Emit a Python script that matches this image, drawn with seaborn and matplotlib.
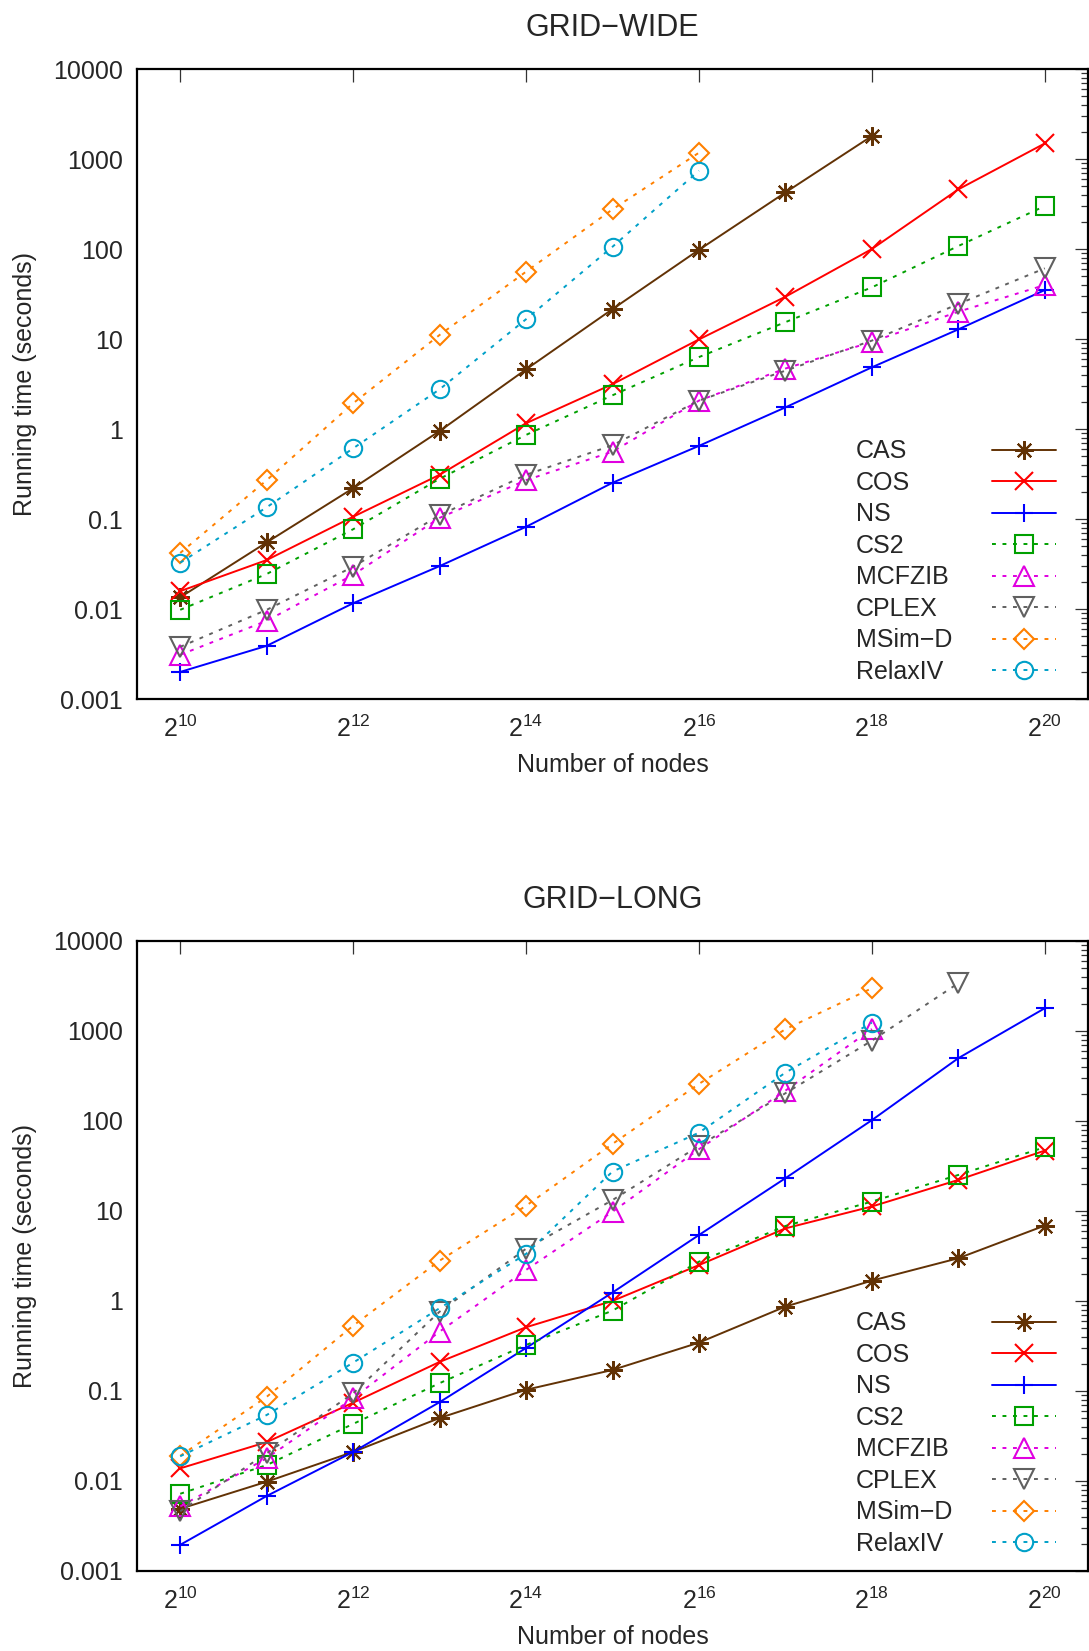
import numpy as np
import pandas as pd
import matplotlib
matplotlib.use("Agg")
import matplotlib.pyplot as plt
import seaborn as sns
from matplotlib.lines import Line2D
from matplotlib.ticker import FixedLocator, NullLocator, FuncFormatter, LogLocator

# ---------------- data ----------------
exponents = list(range(10, 21))
nodes = [2 ** e for e in exponents]
xtick_exponents = [10, 12, 14, 16, 18, 20]
methods = ["CAS", "COS", "NS", "CS2", "MCFZIB", "CPLEX", "MSim−D", "RelaxIV"]

# GRID-WIDE (seconds), starting at 2^10
wide_cas = [0.0135, 0.055, 0.22, 0.95, 4.6, 21.5, 98, 425, 1800]
wide_cos = [0.0158, 0.035, 0.106, 0.31, 1.16, 3.15, 9.9, 29.5, 100, 460, 1490]
wide_ns = [0.002, 0.0039, 0.0116, 0.030, 0.082, 0.253, 0.65, 1.74, 4.85, 12.8, 35]
wide_cs2 = [0.0098, 0.0245, 0.077, 0.28, 0.86, 2.37, 6.3, 15.4, 37.5, 108, 300]
wide_mcfzib = [0.0031, 0.0074, 0.024, 0.103, 0.27, 0.56, 2.07, 4.7, 9.3, 20.1, 39.8]
wide_cplex = [0.0038, 0.0098, 0.0295, 0.11, 0.31, 0.66, 2.07, 4.45, 9.6, 24.5, 61]
wide_msimd = [0.042, 0.27, 1.93, 11.1, 56, 276, 1175]
wide_relaxiv = [0.0327, 0.135, 0.61, 2.76, 16.6, 106, 742]

# GRID-LONG (seconds), starting at 2^10
long_cas = [0.0049, 0.0098, 0.021, 0.05, 0.103, 0.171, 0.344, 0.865, 1.68, 2.98, 6.87]
long_cos = [0.0138, 0.027, 0.074, 0.21, 0.51, 1.0, 2.5, 6.4, 11.2, 22.1, 46.8]
long_ns = [0.00195, 0.0068, 0.021, 0.075, 0.30, 1.24, 5.4, 23.1, 102, 498, 1786]
long_cs2 = [0.0072, 0.015, 0.043, 0.122, 0.324, 0.78, 2.73, 6.8, 12.7, 25.1, 51]
long_mcfzib = [0.0052, 0.0179, 0.083, 0.456, 2.21, 9.8, 48.5, 217, 1050]
long_cplex = [0.0046, 0.0203, 0.094, 0.76, 3.8, 13.2, 52.7, 203, 780, 3390]
long_msimd = [0.019, 0.086, 0.53, 2.8, 11.4, 55.5, 258, 1045, 2980]
long_relaxiv = [0.0188, 0.054, 0.206, 0.83, 3.33, 27.4, 74, 344, 1236]

wide = dict(zip(methods, [wide_cas, wide_cos, wide_ns, wide_cs2, wide_mcfzib,
                          wide_cplex, wide_msimd, wide_relaxiv]))
long_ = dict(zip(methods, [long_cas, long_cos, long_ns, long_cs2, long_mcfzib,
                           long_cplex, long_msimd, long_relaxiv]))

# ---------------- styles ----------------
colors = {"CAS": "#623205", "COS": "#ff0000", "NS": "#0000ff", "CS2": "#00a000",
          "MCFZIB": "#e000e0", "CPLEX": "#606060", "MSim−D": "#ff8000",
          "RelaxIV": "#00a0c8"}
markers = {"CAS": (8, 2, 0), "COS": "x", "NS": "+", "CS2": "s", "MCFZIB": "^",
           "CPLEX": "v", "MSim−D": "D", "RelaxIV": "o"}
msizes = {"CAS": 13.5, "COS": 12.5, "NS": 13.5, "CS2": 12.5, "MCFZIB": 14,
          "CPLEX": 14, "MSim−D": 10.5, "RelaxIV": 12.5}
dotted = (0, (2.0, 3.4))
lstyles = {"CAS": "-", "COS": "-", "NS": "-", "CS2": dotted, "MCFZIB": dotted,
           "CPLEX": dotted, "MSim−D": dotted, "RelaxIV": dotted}

sns.set_style("white")
plt.rcParams["font.family"] = ["Liberation Sans", "DejaVu Sans"]
plt.rcParams["mathtext.fontset"] = "custom"
plt.rcParams["mathtext.rm"] = "Liberation Sans"
plt.rcParams["mathtext.it"] = "Liberation Sans:italic"
plt.rcParams["mathtext.bf"] = "Liberation Sans:bold"

FS = 18
TFS = 22

fig = plt.figure(figsize=(10.89, 16.51), dpi=100)
ax_top = fig.add_axes([0.1258, 0.5766, 0.8733, 0.3816])
ax_bot = fig.add_axes([0.1258, 0.0485, 0.8733, 0.3816])


def draw(ax, data, title):
    for m in methods:
        vals = data[m]
        df = pd.DataFrame({"nodes": nodes[:len(vals)], "time": vals})
        sns.lineplot(data=df, x="nodes", y="time", ax=ax, color=colors[m],
                     marker=markers[m], ms=msizes[m], mfc="none", mec=colors[m],
                     mew=1.5, lw=1.4, linestyle=lstyles[m], label=m,
                     errorbar=None, legend=False)
    ax.set_xscale("log", base=2)
    ax.set_yscale("log")
    ax.set_xlim(2 ** 9.5, 2 ** 20.5)
    ax.set_ylim(1e-3, 1e4)
    ax.xaxis.set_major_locator(FixedLocator([2 ** e for e in xtick_exponents]))
    ax.xaxis.set_minor_locator(NullLocator())
    ax.xaxis.set_major_formatter(FuncFormatter(
        lambda v, p: r"$\mathregular{2^{%d}}$" % int(round(np.log2(v)))))
    ax.yaxis.set_major_locator(LogLocator(base=10, numticks=20))
    ax.yaxis.set_minor_locator(LogLocator(base=10, subs=np.arange(2, 10), numticks=20))
    ax.yaxis.set_major_formatter(FuncFormatter(lambda v, p: f"{v:g}"))
    ax.tick_params(which="both", direction="in", top=True, right=True,
                   color="#333333", labelsize=FS)
    ax.tick_params(which="major", length=9.5, width=0.9)
    ax.tick_params(which="minor", length=4.8, width=0.9)
    ax.tick_params(axis="y", pad=10)
    ax.tick_params(axis="x", pad=12)
    for sp in ax.spines.values():
        sp.set_linewidth(1.6)
        sp.set_color("black")
    ax.set_title(title, fontsize=TFS, pad=24)
    ax.set_xlabel("Number of nodes", fontsize=FS, labelpad=8)
    ax.set_ylabel("Running time (seconds)", fontsize=FS, labelpad=12)

    handles, labels = ax.get_legend_handles_labels()
    blanks = [Line2D([], [], linestyle="none") for _ in labels]
    leg_a = ax.legend(blanks, labels, loc="upper left", bbox_to_anchor=(0.7556, 0.412),
                      handlelength=0, handletextpad=0, frameon=False, borderpad=0,
                      borderaxespad=0, labelspacing=0.30, fontsize=FS)
    ax.add_artist(leg_a)
    ax.legend(handles, [" "] * len(handles), loc="upper right",
              bbox_to_anchor=(0.9664, 0.412), markerfirst=False, handlelength=2.55,
              handletextpad=0.3, frameon=False, borderpad=0, borderaxespad=0,
              labelspacing=0.30, fontsize=FS)


draw(ax_top, wide, "GRID−WIDE")
draw(ax_bot, long_, "GRID−LONG")

fig.savefig("out.png", dpi=100)
